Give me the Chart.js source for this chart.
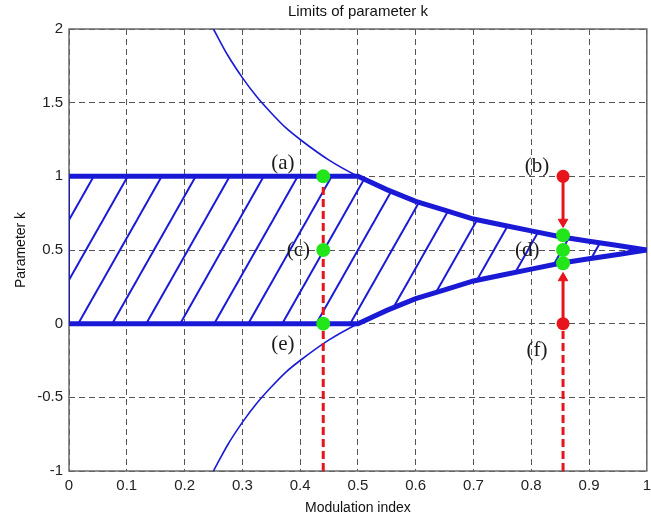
<!DOCTYPE html>
<html>
<head>
<meta charset="utf-8">
<script src="https://cdn.jsdelivr.net/npm/chart.js@4.4.1/dist/chart.umd.min.js"></script>
<style>
  html, body { margin: 0; padding: 0; background: #fff; overflow: hidden; width: 651px; height: 520px; }
  #wrap { width: 651px; height: 520px; overflow: hidden; }
</style>
</head>
<body>
<div id="wrap"><canvas id="kChart" width="657" height="520"></canvas></div>
<script>
// Limit curves
const curveM = [0.25, 0.275, 0.3, 0.325, 0.35, 0.375, 0.4, 0.45, 0.5, 0.55, 0.6, 0.65, 0.7, 0.75, 0.8, 0.85, 0.9, 0.95, 1.0];
const curveUpper = [2.0, 1.82, 1.67, 1.54, 1.43, 1.33, 1.25, 1.11, 1.0, 0.91, 0.83, 0.77, 0.71, 0.67, 0.63, 0.59, 0.56, 0.53, 0.5];
const curveLower = [-1.0, -0.82, -0.67, -0.54, -0.43, -0.33, -0.25, -0.11, 0, 0.09, 0.17, 0.23, 0.29, 0.33, 0.37, 0.41, 0.44, 0.47, 0.5];

// Boundary of the hatched (allowed) region
const regionM = [0, 0.5, 0.55, 0.6, 0.65, 0.7, 0.75, 0.8, 0.85, 0.9, 0.95, 1.0];
const regionTop = [1, 1, 0.91, 0.83, 0.77, 0.71, 0.67, 0.63, 0.59, 0.56, 0.53, 0.5];
const regionBottom = [0, 0, 0.09, 0.17, 0.23, 0.29, 0.33, 0.37, 0.41, 0.44, 0.47, 0.5];

// Operating points
const greenM = [0.44, 0.44, 0.44, 0.855, 0.855, 0.855];
const greenK = [1, 0.5, 0, 0.6, 0.5, 0.41];
const redM = [0.855, 0.855];
const redK = [1, 0];

// Arrows (start -> head) and dashed guides
const arrowDown = [1, 0.69];
const arrowUp = [0, 0.31];
const guideA = { m: 0.44, from: -1, to: 1 };
const guideB = { m: 0.855, from: -1, to: 0 };

// Point labels
const labelText = ['(a)', '(b)', '(c)', '(d)', '(e)', '(f)'];
const labelM = [0.37, 0.81, 0.397, 0.793, 0.37, 0.81];
const labelK = [1.09, 1.07, 0.5, 0.5, -0.14, -0.18];

const xTicks = [0, 0.1, 0.2, 0.3, 0.4, 0.5, 0.6, 0.7, 0.8, 0.9, 1];
const yTicks = [-1, -0.5, 0, 0.5, 1, 1.5, 2];

const BLUE = '#1a1ad6';
const RED = '#e8141c';
const GREEN = '#22e61a';

const pts = (xs, ys) => xs.map((x, i) => ({ x: x, y: ys[i] }));

// hatch pattern for the region
function makeHatch() {
    const w = 34, h = 60, c0 = 41.7;
    const c = document.createElement('canvas');
    c.width = w; c.height = h;
    const g = c.getContext('2d');
    g.strokeStyle = BLUE;
    g.lineWidth = 2;
    for (let k = -1; k <= 2; k++) {
        const cc = c0 + k * h;
        g.beginPath();
        g.moveTo(-3, cc + 3 * h / w);
        g.lineTo(w + 3, cc - (w + 3) * h / w);
        g.stroke();
    }
    return g.createPattern(c, 'repeat');
}

const decorations = {
    id: 'decorations',
    beforeDatasetsDraw(chart) {
        const { ctx, chartArea: a } = chart;
        ctx.save();
        ctx.strokeStyle = '#6a6a6a';
        ctx.lineWidth = 1.5;
        ctx.strokeRect(a.left, a.top, a.right - a.left, a.bottom - a.top);
        ctx.restore();
    },
    afterDraw(chart) {
        const { ctx, chartArea: a, scales } = chart;
        ctx.save();
        ctx.fillStyle = '#111';
        ctx.font = '15px "Liberation Sans", Arial, sans-serif';
        ctx.textAlign = 'center';
        ctx.textBaseline = 'middle';
        ctx.fillText('Limits of parameter k', (a.left + a.right) / 2, 12);

        ctx.font = '21px "Liberation Serif", "Times New Roman", serif';
        ctx.fillStyle = '#1a1a1a';
        labelText.forEach((t, i) => {
            ctx.fillText(t, scales.x.getPixelForValue(labelM[i]), scales.y.getPixelForValue(labelK[i]));
        });
        ctx.restore();
    }
};

const tickFont = { family: '"Liberation Sans", Arial, sans-serif', size: 15 };

new Chart(document.getElementById('kChart'), {
    type: 'scatter',
    data: {
        datasets: [
            {
                label: 'points',
                data: pts(greenM, greenK),
                showLine: false,
                pointRadius: 7,
                pointBackgroundColor: GREEN,
                pointBorderColor: GREEN,
                pointBorderWidth: 0
            },
            {
                label: 'start',
                data: pts(redM, redK),
                showLine: false,
                pointRadius: 6.5,
                pointBackgroundColor: RED,
                pointBorderColor: RED,
                pointBorderWidth: 0
            },
            {
                label: 'arrow down',
                data: pts([0.855, 0.855], arrowDown),
                showLine: true,
                borderColor: RED,
                borderWidth: 3,
                pointStyle: 'triangle',
                pointRadius: [0, 5.5],
                pointRotation: 180,
                pointBackgroundColor: RED,
                pointBorderColor: RED,
                pointBorderWidth: 1
            },
            {
                label: 'arrow up',
                data: pts([0.855, 0.855], arrowUp),
                showLine: true,
                borderColor: RED,
                borderWidth: 3,
                pointStyle: 'triangle',
                pointRadius: [0, 5.5],
                pointRotation: 0,
                pointBackgroundColor: RED,
                pointBorderColor: RED,
                pointBorderWidth: 1
            },
            {
                label: 'guide a',
                data: pts([guideA.m, guideA.m], [guideA.from, guideA.to]),
                showLine: true,
                borderColor: RED,
                borderWidth: 3,
                borderDash: [8, 4],
                pointRadius: 0
            },
            {
                label: 'guide b',
                data: pts([guideB.m, guideB.m], [guideB.from, guideB.to]),
                showLine: true,
                borderColor: RED,
                borderWidth: 3,
                borderDash: [8, 4],
                pointRadius: 0
            },
            {
                label: 'region top',
                data: pts(regionM, regionTop),
                showLine: true,
                borderColor: BLUE,
                borderWidth: 5,
                pointRadius: 0,
                tension: 0,
                fill: { target: 7 },
                backgroundColor: makeHatch()
            },
            {
                label: 'region bottom',
                data: pts(regionM, regionBottom),
                showLine: true,
                borderColor: BLUE,
                borderWidth: 5,
                pointRadius: 0,
                tension: 0
            },
            {
                label: 'region edge',
                data: pts([0, 0], [0, 1]),
                showLine: true,
                borderColor: BLUE,
                borderWidth: 2,
                pointRadius: 0
            },
            {
                label: 'upper limit',
                data: pts(curveM, curveUpper),
                showLine: true,
                borderColor: BLUE,
                borderWidth: 1.6,
                pointRadius: 0,
                cubicInterpolationMode: 'monotone'
            },
            {
                label: 'lower limit',
                data: pts(curveM, curveLower),
                showLine: true,
                borderColor: BLUE,
                borderWidth: 1.6,
                pointRadius: 0,
                cubicInterpolationMode: 'monotone'
            }
        ]
    },
    options: {
        responsive: false,
        animation: false,
        events: [],
        layout: { autoPadding: false, padding: { top: 29, right: 4, left: 0, bottom: 0 } },
        plugins: {
            legend: { display: false },
            tooltip: { enabled: false }
        },
        scales: {
            x: {
                type: 'linear',
                min: 0,
                max: 1,
                afterBuildTicks: s => { s.ticks = xTicks.map(v => ({ value: v })); },
                afterFit: s => { s.height = 49; },
                ticks: { color: '#222', font: tickFont, padding: 6, maxRotation: 0, callback: v => String(v) },
                grid: { color: '#555', lineWidth: 1, drawTicks: false },
                border: { display: false, dash: [6, 4] },
                title: { display: true, text: 'Modulation index', color: '#111',
                         font: { family: '"Liberation Sans", Arial, sans-serif', size: 14 },
                         padding: { top: 0, bottom: 3 } }
            },
            y: {
                type: 'linear',
                min: -1,
                max: 2,
                afterBuildTicks: s => { s.ticks = yTicks.map(v => ({ value: v })); },
                afterFit: s => { s.width = 69; },
                ticks: { color: '#222', font: tickFont, padding: 6, callback: v => String(v) },
                grid: { color: '#555', lineWidth: 1, drawTicks: false },
                border: { display: false, dash: [6, 4] },
                title: { display: true, text: 'Parameter k', color: '#111',
                         font: { family: '"Liberation Sans", Arial, sans-serif', size: 14 },
                         padding: { top: 13, bottom: 0 } }
            }
        }
    },
    plugins: [decorations]
});
</script>
</body>
</html>
